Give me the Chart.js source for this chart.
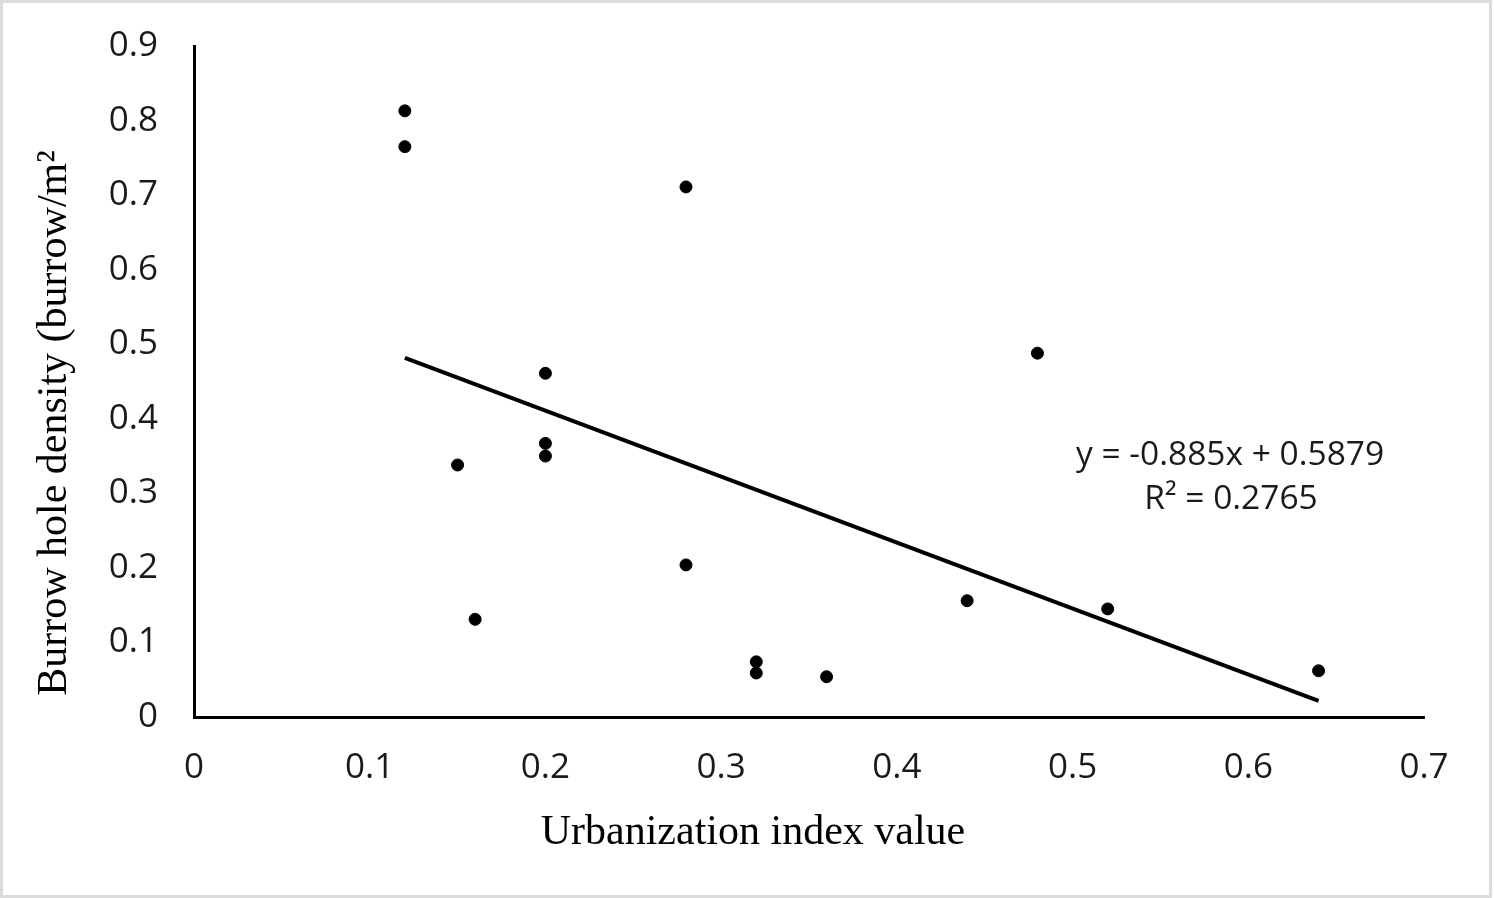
<!DOCTYPE html>
<html>
<head>
<meta charset="utf-8">
<script src="https://cdn.jsdelivr.net/npm/chart.js@4.4.1/dist/chart.umd.min.js"></script>
<style>
  html, body { margin: 0; padding: 0; background: #fff; }
  #wrap { width: 1494px; height: 898px; position: relative; }
</style>
</head>
<body>
<div id="wrap"><canvas id="c" width="1494" height="898"></canvas></div>
<script>
// ---- data ----
const urbanIndex = [0.12, 0.12, 0.28, 0.20, 0.20, 0.20, 0.15, 0.16, 0.28, 0.32, 0.32, 0.36, 0.44, 0.48, 0.52, 0.64];
const burrowDensity = [0.813, 0.765, 0.711, 0.461, 0.367, 0.350, 0.338, 0.131, 0.204, 0.074, 0.059, 0.054, 0.156, 0.488, 0.145, 0.062];
const trendSlope = -0.885;
const trendIntercept = 0.5879;
const trendRange = [0.12, 0.64];
const equationLines = ["y = -0.885x + 0.5879", "R² = 0.2765"];
const xTitle = "Urbanization index value";
const yTitle = "Burrow hole density (burrow/m²";

const points = urbanIndex.map((x, i) => ({ x: x, y: burrowDensity[i] }));
const trendPoints = trendRange.map(x => ({ x: x, y: trendSlope * x + trendIntercept }));

const fmt = v => String(Number(v.toFixed(1)));

const decor = {
  id: 'decor',
  afterDraw(chart) {
    const ctx = chart.ctx;
    ctx.save();
    // frame
    ctx.strokeStyle = '#dcdcdc';
    ctx.lineWidth = 3;
    ctx.strokeRect(1.5, 1.5, 1494 - 3 - 2, 898 - 3);
    // axis titles
    ctx.fillStyle = '#000';
    ctx.font = '42px "Liberation Serif", "Times New Roman", serif';
    ctx.textAlign = 'center';
    ctx.textBaseline = 'middle';
    ctx.fillText(xTitle, 753, 833);
    ctx.save();
    ctx.translate(55, 423);
    ctx.rotate(-Math.PI / 2);
    ctx.fillText(yTitle, 0, 0);
    ctx.restore();
    // equation
    ctx.font = '33.5px "Open Sans", "Liberation Sans", sans-serif';
    ctx.fillStyle = '#1a1a1a';
    ctx.fillText(equationLines[0], 1230, 455);
    ctx.fillText(equationLines[1], 1231, 499);
    ctx.restore();
  }
};

new Chart(document.getElementById('c'), {
  type: 'scatter',
  data: {
    datasets: [
      {
        label: 'Observed',
        data: points,
        backgroundColor: '#000',
        borderColor: '#000',
        pointRadius: 6,
        pointHoverRadius: 6,
        order: 1
      },
      {
        label: 'Trend',
        type: 'line',
        data: trendPoints,
        borderColor: '#000',
        borderWidth: 4,
        pointRadius: 0,
        fill: false,
        order: 2
      }
    ]
  },
  options: {
    responsive: false,
    animation: false,
    devicePixelRatio: 1,
    layout: { padding: { top: 46, right: 70, left: 0, bottom: 0 } },
    plugins: { legend: { display: false }, tooltip: { enabled: false } },
    scales: {
      x: {
        type: 'linear',
        min: 0, max: 0.7,
        afterFit(s) { s.height = 181; s.paddingLeft = 0; s.paddingRight = 0; },
        grid: { display: false, drawTicks: false },
        border: { display: true, color: '#000', width: 3 },
        ticks: {
          stepSize: 0.1,
          padding: 30,
          color: '#1a1a1a',
          font: { size: 35, family: '"Open Sans", "Liberation Sans", sans-serif' },
          callback: v => fmt(v),
          maxRotation: 0,
          autoSkip: false
        }
      },
      y: {
        type: 'linear',
        min: 0, max: 0.9,
        afterFit(s) { s.width = 194; s.paddingTop = 0; s.paddingBottom = 0; },
        grid: { display: false, drawTicks: false },
        border: { display: true, color: '#000', width: 3 },
        ticks: {
          stepSize: 0.1,
          padding: 36,
          color: '#1a1a1a',
          font: { size: 35, family: '"Open Sans", "Liberation Sans", sans-serif' },
          callback: v => fmt(v),
          autoSkip: false
        }
      }
    }
  },
  plugins: [decor]
});
</script>
</body>
</html>
